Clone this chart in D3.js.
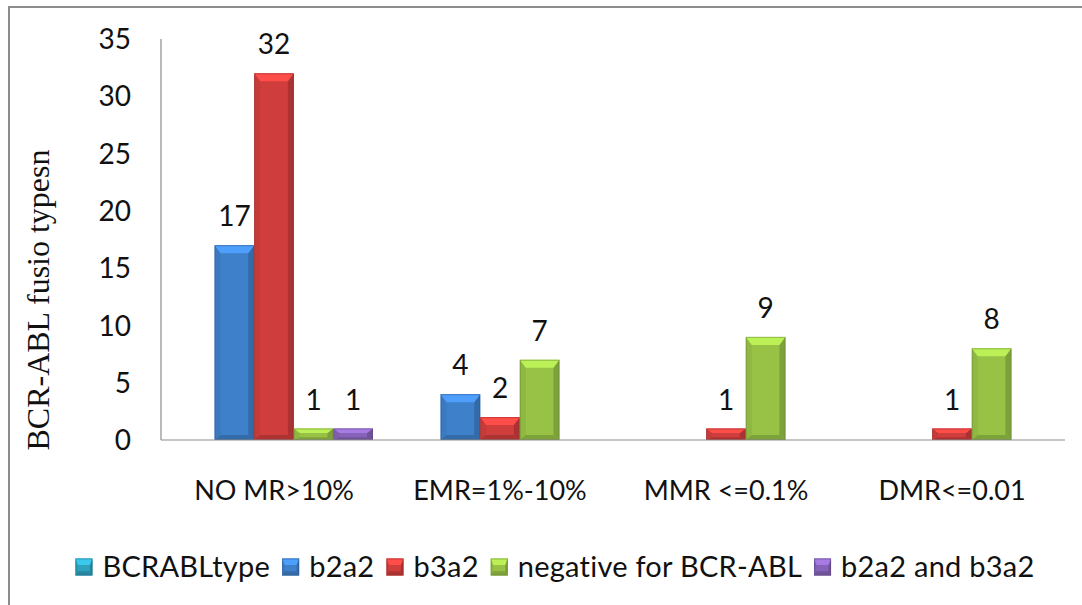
<!DOCTYPE html>
<html>
<head>
<meta charset="utf-8">
<script src="https://cdn.jsdelivr.net/npm/d3@7"></script>
<style>
  html, body { margin: 0; padding: 0; background: #fff; }
  svg { display: block; }
  text { font-family: Lato, "Open Sans", sans-serif; fill: #111; }
</style>
</head>
<body>
<svg id="chart" width="1082" height="605"></svg>
<script>
// Response categories and BCR-ABL fusion type counts
const categories = ["NO MR>10%", "EMR=1%-10%", "MMR <=0.1%", "DMR<=0.01"];
const seriesNames = ["BCRABLtype", "b2a2", "b3a2", "negative for BCR-ABL", "b2a2 and b3a2"];
const bcrAblType = [null, null, null, null];
const b2a2 = [17, 4, null, null];
const b3a2 = [32, 2, 1, 1];
const negativeForBcrAbl = [1, 7, 9, 8];
const b2a2AndB3a2 = [1, null, null, null];
const yTicks = [0, 5, 10, 15, 20, 25, 30, 35];
const yTitle = "BCR-ABL fusio typesn";

const seriesValues = [bcrAblType, b2a2, b3a2, negativeForBcrAbl, b2a2AndB3a2];
const seriesColors = ["#2fa2bf", "#3f80cb", "#cf3e3c", "#97c246", "#8663b8"];

const svg = d3.select("#chart");

// outer frame
svg.append("path")
  .attr("d", "M9,620 L9,7 L1100,7")
  .attr("fill", "none")
  .attr("stroke", "#8c8c8c")
  .attr("stroke-width", 2);

const plot = { left: 161, right: 1065, top: 39, bottom: 440 };

const x0 = d3.scaleBand().domain(categories).range([plot.left, plot.right]).padding(0);
const x1 = d3.scaleBand().domain(seriesNames).range([0, x0.bandwidth()])
  .paddingInner(0).paddingOuter(0.354);
const y = d3.scaleLinear().domain([0, 35]).range([plot.bottom, plot.top]);

// bevelled bar: flat face plus lit top, shaded sides and bottom
function bevelBar(g, x, yTop, w, h, color) {
  const base = d3.color(color);
  const light = base.brighter(0.6);
  const dark = base.darker(0.7);
  const mid = base.darker(0.3);
  const b = Math.min(8, h * 0.38);
  const bb = Math.min(5, h * 0.25);
  const s = Math.min(6, w * 0.15);
  const x2 = x + w, y2 = yTop + h;
  g.append("rect").attr("x", x).attr("y", yTop).attr("width", w).attr("height", h).attr("fill", base);
  // left side
  g.append("polygon").attr("points", [[x, yTop], [x + s, yTop + b], [x + s, y2 - bb], [x, y2]].join(" "))
    .attr("fill", mid).attr("opacity", 0.5);
  // right side
  g.append("polygon").attr("points", [[x2, yTop], [x2 - s, yTop + b], [x2 - s, y2 - bb], [x2, y2]].join(" "))
    .attr("fill", dark).attr("opacity", 0.8);
  // bottom
  g.append("polygon").attr("points", [[x, y2], [x + s, y2 - bb], [x2 - s, y2 - bb], [x2, y2]].join(" "))
    .attr("fill", dark).attr("opacity", 0.75);
  // top highlight
  g.append("polygon").attr("points", [[x, yTop], [x2, yTop], [x2 - s, yTop + b], [x + s, yTop + b]].join(" "))
    .attr("fill", light);
  g.append("rect").attr("x", x + 0.5).attr("y", yTop + 0.5).attr("width", w - 1).attr("height", Math.max(0, h - 1))
    .attr("fill", "none").attr("stroke", base.darker(1)).attr("stroke-opacity", 0.5).attr("stroke-width", 1);
}

// axes lines
svg.append("line").attr("x1", plot.left).attr("x2", plot.left).attr("y1", plot.top).attr("y2", plot.bottom)
  .attr("stroke", "#8c8c8c").attr("stroke-width", 1.2);

// bars
const barsG = svg.append("g");
categories.forEach((cat, ci) => {
  seriesNames.forEach((name, si) => {
    const v = seriesValues[si][ci];
    if (v == null) return;
    const bx = x0(cat) + x1(name);
    const bw = x1.bandwidth();
    bevelBar(barsG, bx, y(v), bw, y(0) - y(v), seriesColors[si]);
    svg.append("text")
      .attr("x", bx + bw / 2)
      .attr("y", y(v) - 19)
      .attr("text-anchor", "middle")
      .attr("font-size", 28)
      .text(v);
  });
});

svg.append("line").attr("x1", plot.left).attr("x2", plot.right).attr("y1", plot.bottom).attr("y2", plot.bottom)
  .attr("stroke", "#8c8c8c").attr("stroke-width", 1.2);

// y tick labels
svg.append("g").selectAll("text").data(yTicks).join("text")
  .attr("x", 131)
  .attr("y", d => y(d))
  .attr("dy", "0.36em")
  .attr("text-anchor", "end")
  .attr("font-size", 28)
  .text(d => d);

// category labels
svg.append("g").selectAll("text").data(categories).join("text")
  .attr("x", d => x0(d) + x0.bandwidth() / 2)
  .attr("y", 500)
  .attr("text-anchor", "middle")
  .attr("font-size", 27)
  .text(d => d);

// y-axis title
svg.append("text")
  .attr("transform", "translate(49,300) rotate(-90)")
  .attr("text-anchor", "middle")
  .style("font-family", "'Liberation Serif', 'Times New Roman', serif")
  .attr("font-size", 32)
  .text(yTitle);

// legend
const legend = svg.append("g");
const sq = 17, gapText = 10, gapItem = 12;
let cx = 0;
seriesNames.forEach((name, i) => {
  const g = legend.append("g");
  bevelBar(g, 0, -sq / 2, sq, sq, seriesColors[i]);
  const t = g.append("text").attr("x", sq + gapText).attr("y", 0).attr("dy", "0.36em")
    .attr("font-size", 29).attr("letter-spacing", 0.25).text(name);
  const w = sq + gapText + t.node().getComputedTextLength();
  g.attr("transform", `translate(${cx},0)`);
  cx += w + gapItem;
});
const totalW = cx - gapItem;
legend.attr("transform", `translate(${555 - totalW / 2},567)`);
</script>
</body>
</html>
